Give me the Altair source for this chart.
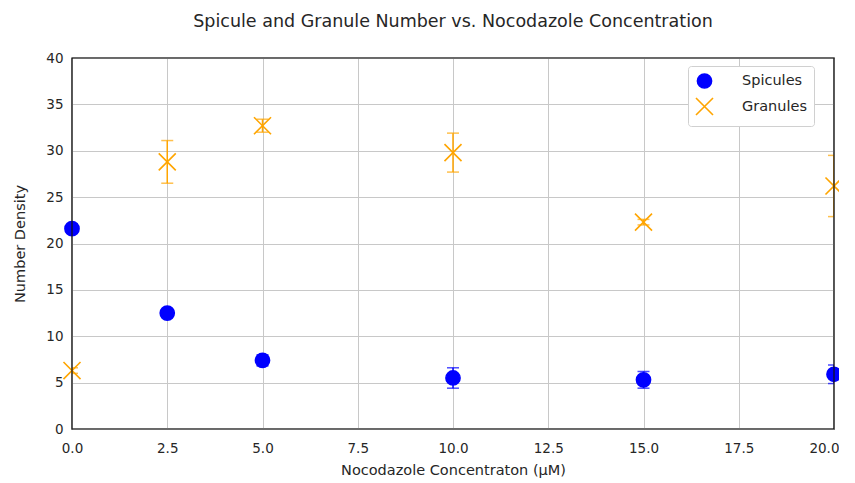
import altair as alt
import pandas as pd

conc = [0.0, 2.5, 5.0, 10.0, 15.0, 20.0]
spicules = [21.6, 12.5, 7.4, 5.5, 5.3, 5.9]
spicules_err = [0.5, 0.4, 0.6, 1.1, 0.9, 1.0]
granules = [6.3, 28.8, 32.7, 29.8, 22.3, 26.2]
granules_err = [0.3, 2.3, 0.7, 2.1, 0.3, 3.3]

series = ["Spicules", "Granules"]
colors = ["#0000ff", "#ffa500"]

rows = []
for c, v, e in zip(conc, spicules, spicules_err):
    rows.append({"conc": c, "val": v, "lo": v - e, "hi": v + e, "series": "Spicules"})
for c, v, e in zip(conc, granules, granules_err):
    rows.append({"conc": c, "val": v, "lo": v - e, "hi": v + e, "series": "Granules"})
df = pd.DataFrame(rows)

font = "DejaVu Sans"
txt = "#262626"
xs = alt.Scale(domain=[0, 20], nice=False)
ys = alt.Scale(domain=[0, 40], nice=False)
col = alt.Color("series:N", scale=alt.Scale(domain=series, range=colors), title=None)

x_enc = alt.X("conc:Q", scale=xs,
              axis=alt.Axis(title="Nocodazole Concentraton (μM)", values=[0, 2.5, 5, 7.5, 10, 12.5, 15, 17.5, 20],
                            format=".1f", grid=True, gridColor="#c8c8c8", domain=False, labelFlush=False,
                            labelAlign={"expr": "datum.value >= 20 ? 'right' : 'center'"},
                            labelOffset={"expr": "datum.value >= 20 ? 5 : 0"},
                            tickSize=0, labelPadding=12, labelFontSize=13.5, titleFontSize=14.5,
                            labelFont=font, titleFont=font, titleFontWeight="normal",
                            labelColor=txt, titleColor=txt, titlePadding=9))
y_enc = alt.Y("val:Q", scale=ys,
              axis=alt.Axis(title="Number Density", values=list(range(0, 41, 5)),
                            grid=True, gridColor="#c8c8c8", domain=False, labelFlush=False,
                            tickSize=0, labelPadding=9, labelFontSize=13.5, titleFontSize=14.5,
                            labelFont=font, titleFont=font, titleFontWeight="normal",
                            labelColor=txt, titleColor=txt, titlePadding=18))

base = alt.Chart(df)

rules = base.mark_rule(strokeWidth=1.5, clip=True).encode(
    x=x_enc, y=alt.Y("lo:Q", scale=ys), y2="hi:Q", color=col)
caps_lo = base.mark_tick(orient="horizontal", size=12, thickness=1.5, clip=True).encode(
    x=alt.X("conc:Q", scale=xs), y=alt.Y("lo:Q", scale=ys), color=col)
caps_hi = base.mark_tick(orient="horizontal", size=12, thickness=1.5, clip=True).encode(
    x=alt.X("conc:Q", scale=xs), y=alt.Y("hi:Q", scale=ys), color=col)

pts = base.mark_point(filled=False, strokeWidth=1.6, opacity=1).encode(
    x=alt.X("conc:Q", scale=xs),
    y=y_enc,
    color=col,
    fill=alt.Fill("series:N", scale=alt.Scale(domain=series, range=["#0000ff", "transparent"]), title=None),
    shape=alt.Shape("series:N", scale=alt.Scale(domain=series, range=["circle", "M-1,-1L1,1M-1,1L1,-1"]), title=None),
    size=alt.Size("series:N", scale=alt.Scale(domain=series, range=[200, 290]), title=None),
)

frame = alt.Chart(pd.DataFrame({"a": [0]})).mark_rect(
    fillOpacity=0, stroke="#111", strokeWidth=1.2
).encode(
    x=alt.datum(0, scale=xs), x2=alt.datum(20),
    y=alt.datum(0, scale=ys), y2=alt.datum(40),
)

chart = alt.layer(rules, caps_lo, caps_hi, pts, frame).properties(
    width=762, height=371,
    autosize=alt.AutoSizeParams(type="none"),
    title=alt.TitleParams("Spicule and Granule Number vs. Nocodazole Concentration",
                          font=font, fontSize=17.5, fontWeight="normal", color=txt, offset=21),
    padding={"left": 64, "top": 50, "right": 5, "bottom": 50},
).configure_view(stroke="#111", strokeWidth=1.2).configure_legend(
    orient="none", legendX=616, legendY=8, labelFont=font, labelFontSize=14.5,
    strokeColor="#d0d0d0", fillColor="white", padding=7, cornerRadius=3,
    rowPadding=2, symbolStrokeWidth=1.6, symbolOpacity=1, labelOffset=28, labelColor=txt
)

chart.save("out.html", embed_options={"renderer": "svg", "actions": False})
